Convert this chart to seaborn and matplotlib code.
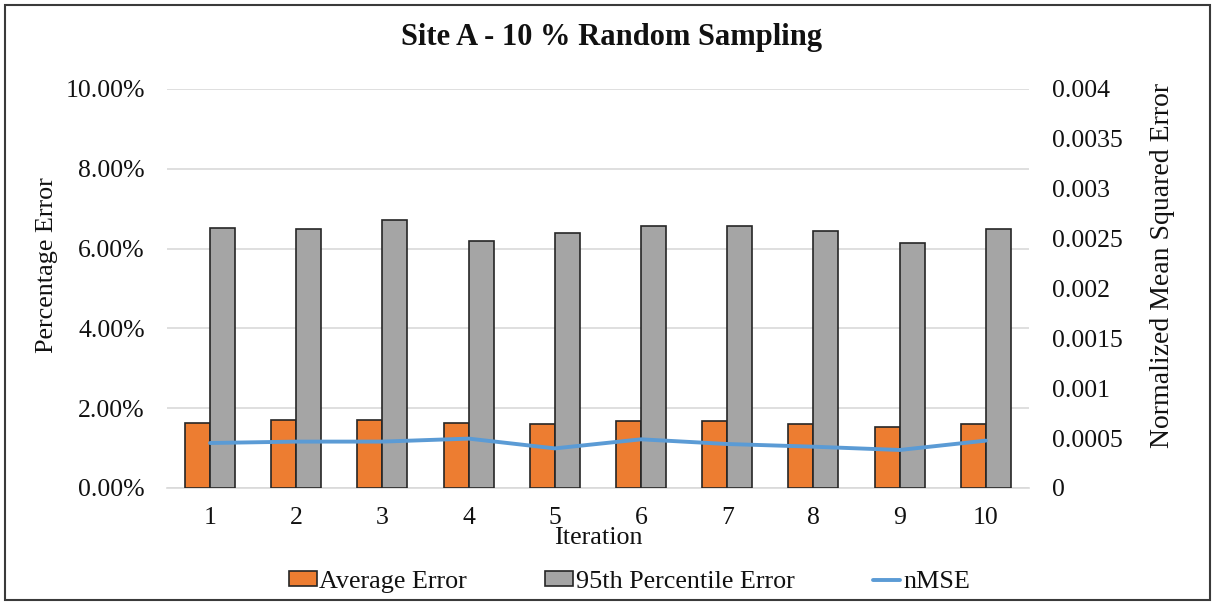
import numpy as np
import pandas as pd
import matplotlib
matplotlib.use("Agg")
import matplotlib.pyplot as plt
import seaborn as sns
from matplotlib.patches import Patch, Rectangle
from matplotlib.lines import Line2D
from matplotlib.ticker import FuncFormatter, MultipleLocator

# Results of the ten sampling iterations
iterations = ["1", "2", "3", "4", "5", "6", "7", "8", "9", "10"]
average_error = [1.64, 1.71, 1.71, 1.62, 1.60, 1.67, 1.69, 1.61, 1.52, 1.61]      # %
p95_error = [6.52, 6.50, 6.72, 6.20, 6.40, 6.56, 6.56, 6.45, 6.14, 6.50]          # %
nmse = [0.000451, 0.000465, 0.000465, 0.000495, 0.000397,
        0.000488, 0.000441, 0.000414, 0.000381, 0.000475]

series_names = ["Average Error", "95th Percentile Error"]
line_name = "nMSE"

sns.set_theme(style="white")
plt.rcParams["font.family"] = ["Liberation Serif", "DejaVu Serif"]

ORANGE = "#ED7D31"
GREY = "#A5A5A5"
BLUE = "#5B9BD5"
GRID = "#D9D9D9"
EDGE = "#262626"
TEXT = "#111111"
FS = 18.5

bars = pd.DataFrame({
    "Iteration": iterations * 2,
    "Error": average_error + p95_error,
    "Series": [series_names[0]] * len(iterations) + [series_names[1]] * len(iterations),
})

fig = plt.figure(figsize=(12.15, 6.05), dpi=100)
fig.subplots_adjust(left=0.1374, right=0.8469, top=0.8529, bottom=0.1934)
ax = fig.add_subplot(111)

sns.barplot(data=bars, x="Iteration", y="Error", hue="Series",
            palette=[ORANGE, GREY], saturation=1, width=0.58, gap=0,
            edgecolor=EDGE, linewidth=1.2, ax=ax, legend=False, zorder=3)

ax.set_ylim(0, 10)
ax.set_xlim(-0.5, len(iterations) - 0.5)
ax.yaxis.set_major_locator(MultipleLocator(2))
ax.yaxis.set_major_formatter(FuncFormatter(lambda v, p: f"{v:.2f}%"))
ax.grid(axis="y", color=GRID, linewidth=1.2, zorder=0)
ax.set_axisbelow(True)
for side in ["top", "right", "left"]:
    ax.spines[side].set_visible(False)
ax.spines["bottom"].set_color(GRID)
ax.spines["bottom"].set_linewidth(1.2)
ax.tick_params(axis="both", length=0, labelsize=FS, colors=TEXT)
ax.tick_params(axis="x", pad=14)
ax.tick_params(axis="y", pad=16)
ax.set_ylabel("Percentage Error", fontsize=18.8, color=TEXT)
ax.yaxis.set_label_coords(-0.126, 0.559)
ax.set_xlabel("Iteration", fontsize=18.8, labelpad=-2, color=TEXT)

ax2 = ax.twinx()
sns.lineplot(x=np.arange(len(iterations)), y=nmse, color=BLUE, linewidth=2.8,
             ax=ax2, zorder=4)
ax2.set_ylim(0, 0.004)
ax2.yaxis.set_major_locator(MultipleLocator(0.0005))
ax2.yaxis.set_major_formatter(FuncFormatter(lambda v, p: "0" if v == 0 else f"{v:g}"))
for side in ["top", "right", "left", "bottom"]:
    ax2.spines[side].set_visible(False)
ax2.tick_params(axis="y", length=0, labelsize=FS, pad=16.5, colors=TEXT)
ax2.set_ylabel("Normalized Mean Squared Error", fontsize=20, color=TEXT, rotation=90)
ax2.yaxis.set_label_coords(1.140, 0.559)
ax2.grid(False)

fig.text(0.503, 1 - 37 / 605, "Site A - 10 % Random Sampling", fontsize=22,
         fontweight="bold", ha="center", va="center", color=TEXT)

handles = [
    Patch(facecolor=ORANGE, edgecolor=EDGE, linewidth=1.2),
    Patch(facecolor=GREY, edgecolor=EDGE, linewidth=1.2),
    Line2D([0], [0], color=BLUE, linewidth=2.8),
]
fig.legend(handles, series_names + [line_name], loc="center", ncol=3,
           bbox_to_anchor=(0.518, 0.038), frameon=False, fontsize=18.8,
           handlelength=1.06, handleheight=0.5, handletextpad=0.1,
           columnspacing=3.0, labelcolor=TEXT)

# thin frame around the whole chart
fig.add_artist(Rectangle((0.004, 0.008), 0.992, 0.984, transform=fig.transFigure,
                         fill=False, edgecolor="#3a3a3a", linewidth=1.5))

fig.savefig("out.png", dpi=100)
